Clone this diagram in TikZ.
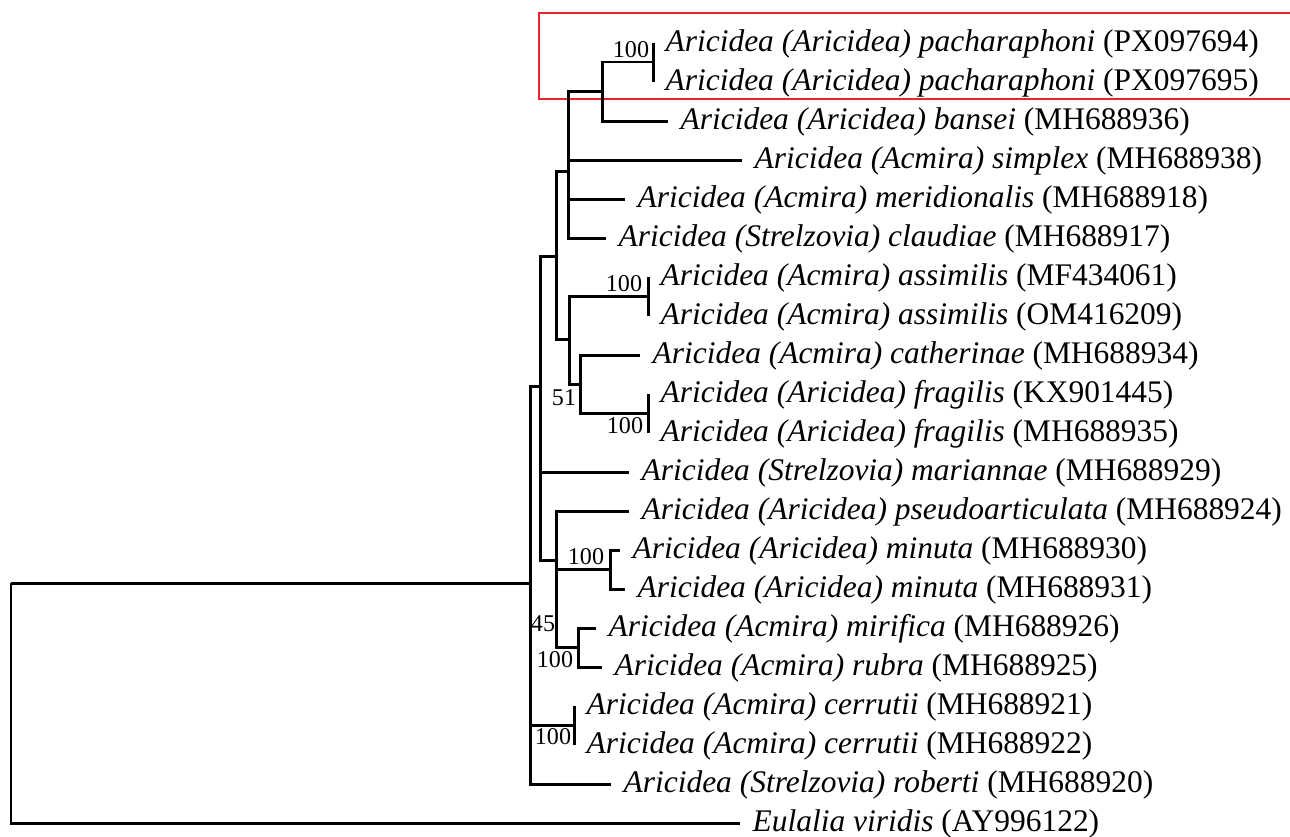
\documentclass[tikz,border=0pt]{standalone}
\usepackage{fontspec}
\setmainfont{Liberation Serif}
\definecolor{boxred}{RGB}{234,38,42}
\begin{document}
\begin{tikzpicture}[x=0.02cm,y=-0.02cm,
  branch/.style={line width=1.7pt, line join=miter},
  taxon/.style={anchor=west, inner xsep=7pt, inner ysep=0pt, text height=9.1pt, text depth=0pt, font=\fontsize{17.9}{21}\selectfont},
  boot/.style={inner sep=0pt, font=\fontsize{13.7}{15}\selectfont}]
\useasboundingbox (0,0) rectangle (1290,836);
\draw[boxred, line width=1.1pt] (1300,13) -- (539,13) -- (539,99) -- (1300,99);
\node[taxon] (t0) at (653,43) {\textit{Aricidea (Aricidea) pacharaphoni} (PX097694)};
\node[taxon] (t1) at (653,82) {\textit{Aricidea (Aricidea) pacharaphoni} (PX097695)};
\node[taxon] (t2) at (668,121) {\textit{Aricidea (Aricidea) bansei} (MH688936)};
\node[taxon] (t3) at (742,160) {\textit{Aricidea (Acmira) simplex} (MH688938)};
\node[taxon] (t4) at (625,199) {\textit{Aricidea (Acmira) meridionalis} (MH688918)};
\node[taxon] (t5) at (606,238) {\textit{Aricidea (Strelzovia) claudiae} (MH688917)};
\node[taxon] (t6) at (648,277) {\textit{Aricidea (Acmira) assimilis} (MF434061)};
\node[taxon] (t7) at (648,316) {\textit{Aricidea (Acmira) assimilis} (OM416209)};
\node[taxon] (t8) at (640,355) {\textit{Aricidea (Acmira) catherinae} (MH688934)};
\node[taxon] (t9) at (648,394) {\textit{Aricidea (Aricidea) fragilis} (KX901445)};
\node[taxon] (t10) at (648,433) {\textit{Aricidea (Aricidea) fragilis} (MH688935)};
\node[taxon] (t11) at (629,472) {\textit{Aricidea (Strelzovia) mariannae} (MH688929)};
\node[taxon] (t12) at (629,511) {\textit{Aricidea (Aricidea) pseudoarticulata} (MH688924)};
\node[taxon] (t13) at (620,550) {\textit{Aricidea (Aricidea) minuta} (MH688930)};
\node[taxon] (t14) at (625,589) {\textit{Aricidea (Aricidea) minuta} (MH688931)};
\node[taxon] (t15) at (596,628) {\textit{Aricidea (Acmira) mirifica} (MH688926)};
\node[taxon] (t16) at (602,667) {\textit{Aricidea (Acmira) rubra} (MH688925)};
\node[taxon] (t17) at (574,706) {\textit{Aricidea (Acmira) cerrutii} (MH688921)};
\node[taxon] (t18) at (574,745) {\textit{Aricidea (Acmira) cerrutii} (MH688922)};
\node[taxon] (t19) at (611,784) {\textit{Aricidea (Strelzovia) roberti} (MH688920)};
\node[taxon] (t20) at (740,823) {\textit{Eulalia viridis} (AY996122)};
\coordinate (root) at (11,583);
\coordinate (ingroup) at (530,583);
\coordinate (core) at (540,386);
\coordinate (upper) at (556,256);
\coordinate (aric) at (568,171);
\coordinate (pb) at (602,91);
\coordinate (pach) at (653,62);
\coordinate (acm) at (569,339);
\coordinate (assim) at (648,296);
\coordinate (cf) at (580,384);
\coordinate (frag) at (648,413);
\coordinate (lower) at (556,560);
\coordinate (minu) at (610,569);
\coordinate (mr) at (578,647);
\coordinate (cerr) at (574,725);
\draw[branch] (root) |- (ingroup);
\draw[branch] (root) |- (t20.west);
\draw[branch] (ingroup) |- (core);
\draw[branch] (ingroup) |- (cerr);
\draw[branch] (ingroup) |- (t19.west);
\draw[branch] (core) |- (upper);
\draw[branch] (core) |- (t11.west);
\draw[branch] (core) |- (lower);
\draw[branch] (upper) |- (aric);
\draw[branch] (upper) |- (acm);
\draw[branch] (aric) |- (pb);
\draw[branch] (aric) |- (t3.west);
\draw[branch] (aric) |- (t4.west);
\draw[branch] (aric) |- (t5.west);
\draw[branch] (pb) |- (pach);
\draw[branch] (pb) |- (t2.west);
\draw[branch] (pach) -- (t0.west);
\draw[branch] (pach) -- (t1.west);
\draw[branch] (acm) |- (assim);
\draw[branch] (acm) |- (cf);
\draw[branch] (assim) -- (t6.west);
\draw[branch] (assim) -- (t7.west);
\draw[branch] (cf) |- (t8.west);
\draw[branch] (cf) |- (frag);
\draw[branch] (frag) -- (t9.west);
\draw[branch] (frag) -- (t10.west);
\draw[branch] (lower) |- (t12.west);
\draw[branch] (lower) |- (minu);
\draw[branch] (lower) |- (mr);
\draw[branch] (minu) |- (t13.west);
\draw[branch] (minu) |- (t14.west);
\draw[branch] (mr) |- (t15.west);
\draw[branch] (mr) |- (t16.west);
\draw[branch] (cerr) -- (t17.west);
\draw[branch] (cerr) -- (t18.west);
\node[boot] (b0) at (631,50) {100};
\node[boot] (b1) at (624,284) {100};
\node[boot] (b2) at (564,398) {51};
\node[boot] (b3) at (625,426) {100};
\node[boot] (b4) at (586,557) {100};
\node[boot] (b5) at (543,624) {45};
\node[boot] (b6) at (555,660) {100};
\node[boot] (b7) at (553,737) {100};
\end{tikzpicture}
\end{document}
